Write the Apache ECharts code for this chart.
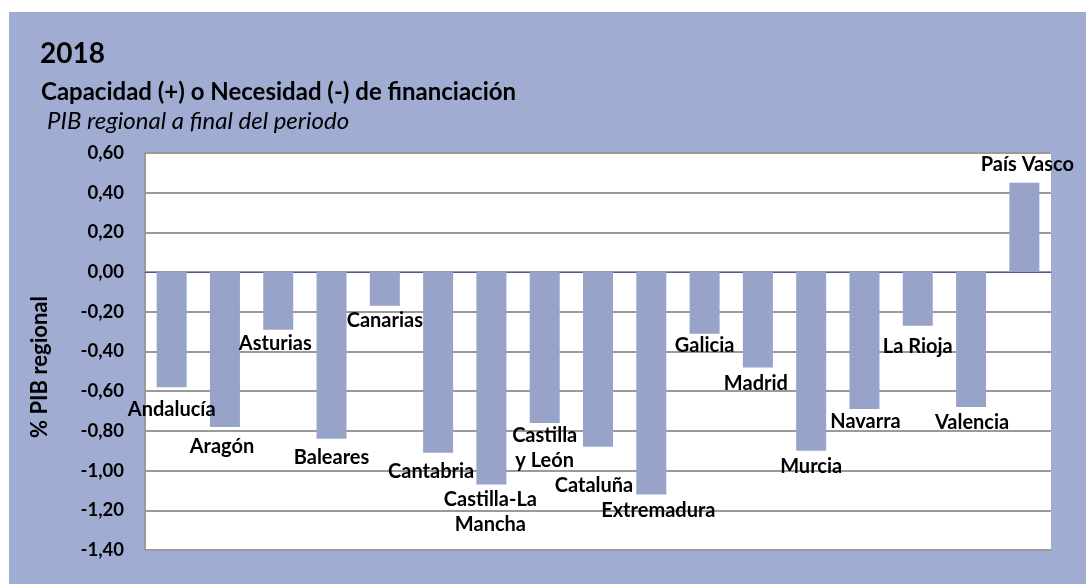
<html>
  <head>
    <meta http-equiv="Content-Type" content="text/html; charset=utf-8" />
    <title>2018 Capacidad o Necesidad de financiación</title>
    <style>
      html, body { margin: 0; padding: 0; background: #ffffff; }
      #chart { width: 1086px; height: 584px; }
    </style>
  </head>
  <body>
    <div id="chart"></div>
    <script src="https://cdn.jsdelivr.net/npm/echarts@6/dist/echarts.min.js"></script>
    <script>
      // datos
      var regiones = ['Andalucía', 'Aragón', 'Asturias', 'Baleares', 'Canarias', 'Cantabria',
        'Castilla-La Mancha', 'Castilla y León', 'Cataluña', 'Extremadura', 'Galicia', 'Madrid',
        'Murcia', 'Navarra', 'La Rioja', 'Valencia', 'País Vasco'];
      var valores = [-0.58, -0.78, -0.29, -0.84, -0.17, -0.91, -1.07, -0.76, -0.88, -1.12,
        -0.31, -0.48, -0.90, -0.69, -0.27, -0.68, 0.45];
      var etiquetas = ['Andalucía', 'Aragón', 'Asturias', 'Baleares', 'Canarias', 'Cantabria',
        'Castilla-La\nMancha', 'Castilla\ny León', 'Cataluña', 'Extremadura', 'Galicia', 'Madrid',
        'Murcia', 'Navarra', 'La Rioja', 'Valencia', 'País Vasco'];
      var ejeMin = -1.4, ejeMax = 0.6, ejePaso = 0.2;

      // desplazamiento manual de cada etiqueta (como en la hoja original)
      var desplaz = [[0, 5], [-3, 2], [-3, -4], [0, 1], [0, -3], [-7, 1], [-1, -2], [0, -5],
        [-4, 21], [7, -1], [0, -6], [-2, -1], [0, -2], [1, -5], [0, 3], [1, -2], [3, -1]];

      var fondo = '#a0acd2';
      var colorBarra = '#97a3c9';
      var fuente = 'Lato';

      var datos = valores.map(function (v, i) {
        return {
          value: v,
          label: {
            position: v >= 0 ? 'top' : 'bottom',
            offset: desplaz[i]
          }
        };
      });

      var chart = echarts.init(document.getElementById('chart'));
      var option = {
        backgroundColor: '#ffffff',
        animation: false,
        graphic: [
          {
            type: 'rect', z: -100, silent: true,
            shape: { x: 9, y: 12, width: 1077, height: 572 },
            style: { fill: fondo }
          },
          {
            type: 'text', x: 40, y: 367, rotation: Math.PI / 2,
            style: {
              text: '% PIB regional', fill: '#000', align: 'center', verticalAlign: 'middle',
              font: 'bold 22px ' + fuente
            }
          }
        ],
        title: [
          {
            text: '2018', left: 35, top: 33,
            textStyle: { fontFamily: fuente, fontWeight: 'bold', fontSize: 28, color: '#000', lineHeight: 32 }
          },
          {
            text: 'Capacidad (+) o Necesidad (-) de financiación', left: 36, top: 73,
            textStyle: { fontFamily: fuente, fontWeight: 'bold', fontSize: 24, color: '#000', lineHeight: 28 }
          },
          {
            text: 'PIB regional a final del periodo', left: 42, top: 102,
            textStyle: { fontFamily: fuente, fontStyle: 'italic', fontWeight: 'normal', fontSize: 24, color: '#000', lineHeight: 28 }
          }
        ],
        grid: {
          left: 145, right: 35, top: 153, bottom: 34,
          show: true, backgroundColor: '#ffffff', borderWidth: 0
        },
        xAxis: {
          type: 'category',
          data: regiones,
          axisLine: { onZero: true, lineStyle: { color: '#4b5c9e', width: 1 } },
          axisTick: { show: false },
          axisLabel: { show: false }
        },
        yAxis: {
          type: 'value',
          min: ejeMin, max: ejeMax, interval: ejePaso,
          axisLine: { show: true, lineStyle: { color: '#9a9a9a', width: 2 } },
          axisTick: { show: false },
          splitLine: { show: true, lineStyle: { color: '#9a9a9a', width: 2 } },
          axisLabel: {
            margin: 21,
            color: '#000',
            fontFamily: fuente, fontWeight: 'bold', fontSize: 18.5,
            formatter: function (v) { return v.toFixed(2).replace('.', ','); }
          }
        },
        series: [{
          type: 'bar',
          data: datos,
          barWidth: 30,
          itemStyle: { color: colorBarra },
          label: {
            show: true,
            distance: 5,
            color: '#000',
            fontFamily: fuente, fontWeight: 'bold', fontSize: 20, lineHeight: 25,
            align: 'center',
            formatter: function (p) { return etiquetas[p.dataIndex]; }
          }
        }]
      };
      chart.setOption(option);
    </script>
  </body>
</html>
